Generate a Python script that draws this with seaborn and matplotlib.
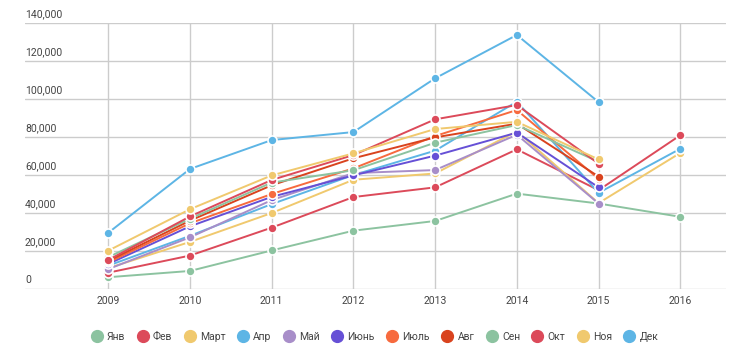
import numpy as np
import pandas as pd
import matplotlib
matplotlib.use("Agg")
import matplotlib.pyplot as plt
from matplotlib.lines import Line2D
import seaborn as sns

years = [2009, 2010, 2011, 2012, 2013, 2014, 2015, 2016]
months = ['Янв', 'Фев', 'Март', 'Апр', 'Май', 'Июнь', 'Июль', 'Авг', 'Сен', 'Окт', 'Ноя', 'Дек']
colors = ['#8cc3a0', '#dc4a5a', '#f0c96e', '#5db5e5', '#a88ec9', '#6650d6',
          '#f76a3e', '#d9431e', '#8cc3a0', '#dc4a5a', '#f0c96e', '#5db5e5']

jan = [6200, 9500, 20300, 30700, 35800, 50200, 45000, 38000]
feb = [8600, 17600, 32300, 48400, 53500, 73500, 52000, 80900]
mar = [11000, 24800, 40000, 57500, 60800, 83000, 45200, 71600]
apr = [12300, 28000, 44700, 60000, 72800, 98600, 50600, 73800]
may = [10500, 27200, 46800, 61000, 62600, 81200, 45000, None]
jun = [13200, 33000, 48500, 59800, 70200, 82300, 53500, None]
jul = [14000, 34600, 50000, 63500, 80500, 94200, 58000, None]
aug = [14800, 36000, 54600, 68800, 79800, 87000, 59200, None]
sep = [16800, 37000, 56000, 62500, 77000, 86300, 67000, None]
oct_ = [15300, 38200, 57400, 70500, 89300, 96800, 66000, None]
nov = [20200, 42000, 59800, 71400, 84200, 88000, 68200, None]
dec = [29600, 63200, 78400, 82600, 110900, 133700, 98400, None]

series = [jan, feb, mar, apr, may, jun, jul, aug, sep, oct_, nov, dec]

rows = []
for m, vals in zip(months, series):
    for y, v in zip(years, vals):
        if v is not None:
            rows.append({'year': y, 'month': m, 'value': v})
df = pd.DataFrame(rows)

sns.set_style("white")
plt.rcParams['font.family'] = ['Roboto', 'DejaVu Sans']

fig = plt.figure(figsize=(7.5, 3.57), dpi=100)
ax = fig.add_axes([25 / 750, 68 / 357, 701 / 750, 266 / 357])

sns.lineplot(data=df, x='year', y='value', hue='month', hue_order=months,
             palette=colors, marker='o', markersize=6.5, markeredgecolor='white',
             markeredgewidth=1.2, linewidth=1.4, legend=False, ax=ax,
             zorder=3)

ax.set_xlim(2007.98, 2016.56)
ax.set_ylim(0, 140000)
ax.set_xticks(years)
ax.set_xticklabels([str(y) for y in years], fontsize=7.5, color='#444444')
ax.set_yticks(range(0, 140001, 20000))
ax.set_yticklabels([])
ax.tick_params(length=0, pad=5)
ax.set_xlabel('')
ax.set_ylabel('')

# gridlines like google charts
for yv in range(0, 140001, 20000):
    ax.axhline(yv, color='#cccccc', linewidth=1, zorder=0)
for xv in years:
    ax.axvline(xv, color='#cccccc', linewidth=1, zorder=0)

# y labels sit inside the plot, above each gridline
for yv in range(0, 140001, 20000):
    ax.annotate(f'{yv:,}', xy=(0, yv), xycoords=('axes fraction', 'data'),
                xytext=(0, 3), textcoords='offset points',
                ha='left', va='bottom', fontsize=7.5, color='#444444')

for s in ax.spines.values():
    s.set_visible(False)

handles = [Line2D([], [], linestyle='none', marker='o', markersize=8.5,
                  markerfacecolor=c, markeredgecolor=c) for c in colors]
fig.legend(handles, months, loc='center', bbox_to_anchor=(0.5, 1 - 337 / 357),
           ncol=12, frameon=False, fontsize=7.5, handletextpad=0.5,
           columnspacing=1.15, handlelength=1.0, labelcolor='#444444')

fig.savefig('out.png', dpi=100)
